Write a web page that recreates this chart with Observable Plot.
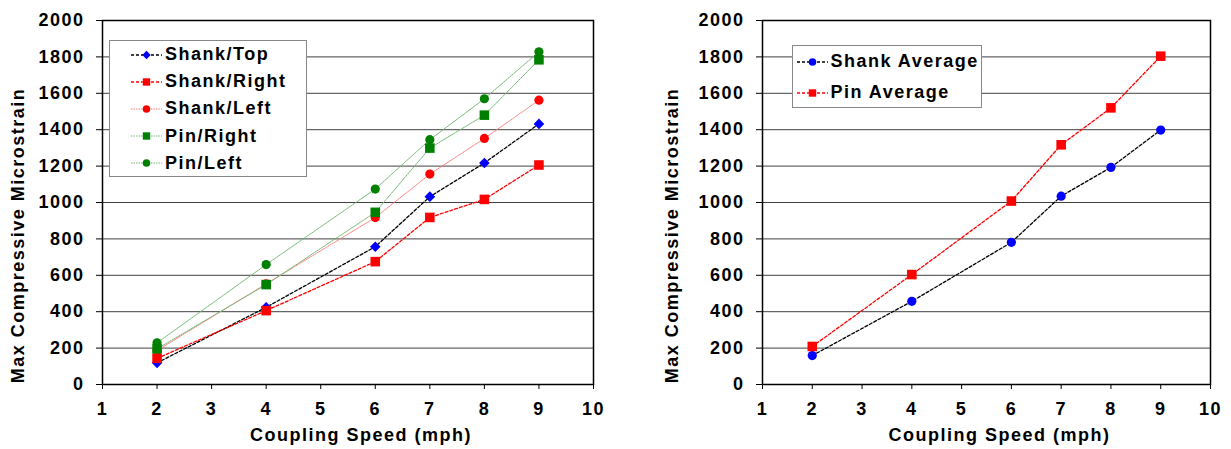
<!DOCTYPE html>
<html><head><meta charset="utf-8">
<script src="https://cdn.jsdelivr.net/npm/d3@7"></script>
<script src="https://cdn.jsdelivr.net/npm/@observablehq/plot@0.6"></script>
<style>
body{margin:0;background:#fff;}
#wrap{position:relative;width:1231px;height:449px;font-family:"Liberation Sans",Arial,sans-serif;overflow:hidden;}
.panel{position:absolute;top:0;}
.legend{position:absolute;background:#fff;border:1.5px solid #888;box-sizing:border-box;font-weight:bold;font-size:18px;letter-spacing:1.5px;color:#000;}
.row{display:flex;align-items:center;white-space:nowrap;}
.row svg{flex:none;margin-right:3px;}
</style></head>
<body>
<div id="wrap">
  <div class="panel" id="left" style="left:0"></div>
  <div class="panel" id="right" style="left:615px"></div>
  <div class="legend" id="legL" style="left:109px;top:40px;width:198px;height:137px;"></div>
  <div class="legend" id="legR" style="left:792px;top:45px;width:190px;height:63px;"></div>
</div>
<script>
// ---- data ----
const speeds = [2, 4, 6, 7, 8, 9];
const shankTop   = [119, 424, 757, 1032, 1217, 1432];
const shankRight = [144, 406, 675, 918, 1017, 1206];
const shankLeft  = [187, 553, 917, 1156, 1352, 1562];
const pinRight   = [196, 549, 946, 1299, 1480, 1784];
const pinLeft    = [229, 659, 1074, 1345, 1570, 1828];
const shankAverage = [159, 457, 781, 1035, 1193, 1398];
const pinAverage   = [209, 604, 1008, 1317, 1520, 1804];
const xTicks = [1, 2, 3, 4, 5, 6, 7, 8, 9, 10];
const yTicks = [0, 200, 400, 600, 800, 1000, 1200, 1400, 1600, 1800, 2000];
const xTitle = "Coupling Speed (mph)";
const yTitle = "Max Compressive Microstrain";

// ---- styles ----
const leftSeries = [
  {name: "Shank/Top",   values: shankTop,   line: "#000", dash: "3,2", width: 1.3, marker: "diamond", fill: "#0000ff"},
  {name: "Shank/Right", values: shankRight, line: "#ff0000", dash: "3,2", width: 1.3, marker: "square", fill: "#ff0000"},
  {name: "Shank/Left",  values: shankLeft,  line: "#ff8080", dash: "1.5,1", width: 1, marker: "circle", fill: "#ff0000"},
  {name: "Pin/Right",   values: pinRight,   line: "#70b870", dash: "1.5,1", width: 1, marker: "square", fill: "#008000"},
  {name: "Pin/Left",    values: pinLeft,    line: "#70b870", dash: "1.5,1", width: 1, marker: "circle", fill: "#008000"}
];
const rightSeries = [
  {name: "Shank Average", values: shankAverage, line: "#000", dash: "3,2", width: 1.3, marker: "circle", fill: "#0000ff"},
  {name: "Pin Average",   values: pinAverage,   line: "#ff0000", dash: "3,2", width: 1.3, marker: "square", fill: "#ff0000"}
];
const symR = {circle: 4.6, square: 5.4, diamond: 4.8};
const symName = {circle: "circle", square: "square", diamond: "diamond2"};

function chart(series, opts) {
  const marks = [
    Plot.gridY(yTicks, {stroke: "#000", strokeOpacity: 0.75, strokeWidth: 1}),
    Plot.axisY({ticks: yTicks, tickSize: 6, tickPadding: 12, tickFormat: d3.format("d"), label: null, stroke: "#000"}),
    Plot.axisX({ticks: xTicks, tickSize: 5, tickPadding: 13, tickFormat: d3.format("d"), label: null, stroke: "#000"}),
    Plot.text([yTitle], {frameAnchor: "left", textAnchor: "middle", lineAnchor: "middle", rotate: -90, dx: opts.yTitleDx, dy: 33, fontSize: 18, fontWeight: "bold"}),
    Plot.text([xTitle], {frameAnchor: "bottom", textAnchor: "middle", lineAnchor: "top", dx: 13, dy: 44, fontSize: 18, fontWeight: "bold"}),
    Plot.frame({stroke: "#000", strokeWidth: 1.5})
  ];
  for (const s of series) {
    const data = speeds.map((x, i) => ({x, y: s.values[i]}));
    marks.push(Plot.line(data, {x: "x", y: "y", stroke: s.line, strokeWidth: s.width, strokeDasharray: s.dash}));
  }
  for (const s of series) {
    const data = speeds.map((x, i) => ({x, y: s.values[i]}));
    marks.push(Plot.dot(data, {x: "x", y: "y", symbol: () => symName[s.marker], r: symR[s.marker], fill: s.fill, stroke: "none"}));
  }
  return Plot.plot({
    width: opts.width, height: 449,
    marginLeft: opts.ml, marginRight: opts.mr, marginTop: 20, marginBottom: 65,
    x: {domain: [1, 10]},
    y: {domain: [0, 2000]},
    symbol: {type: "identity"},
    style: {fontFamily: "'Liberation Sans', Arial, sans-serif", fontSize: "18px", fontWeight: "bold", letterSpacing: "1.5px", color: "#000", background: "transparent", overflow: "visible"},
    marks
  });
}

document.getElementById("left").append(chart(leftSeries, {width: 615, ml: 102, mr: 22, yTitleDx: -84}));
document.getElementById("right").append(chart(rightSeries, {width: 616, ml: 147, mr: 21, yTitleDx: -90}));

function swatch(s) {
  const ns = "http://www.w3.org/2000/svg";
  const svg = document.createElementNS(ns, "svg");
  svg.setAttribute("width", 31); svg.setAttribute("height", 14);
  const ln = document.createElementNS(ns, "line");
  ln.setAttribute("x1", 0); ln.setAttribute("x2", 31); ln.setAttribute("y1", 7); ln.setAttribute("y2", 7);
  ln.setAttribute("stroke", s.line); ln.setAttribute("stroke-width", s.width); ln.setAttribute("stroke-dasharray", s.dash);
  svg.append(ln);
  let m;
  if (s.marker === "circle") {
    m = document.createElementNS(ns, "circle");
    m.setAttribute("cx", 15.5); m.setAttribute("cy", 7); m.setAttribute("r", 3.8);
  } else if (s.marker === "square") {
    m = document.createElementNS(ns, "rect");
    m.setAttribute("x", 11.8); m.setAttribute("y", 3.3); m.setAttribute("width", 7.4); m.setAttribute("height", 7.4);
  } else {
    m = document.createElementNS(ns, "polygon");
    m.setAttribute("points", "15.5,2.8 19.7,7 15.5,11.2 11.3,7");
  }
  m.setAttribute("fill", s.fill);
  svg.append(m);
  return svg;
}
function legend(el, series, rowH, padLeft) {
  el.style.paddingLeft = padLeft + "px";
  for (const s of series) {
    const row = document.createElement("div");
    row.className = "row";
    row.style.height = rowH + "px";
    row.append(swatch(s));
    const t = document.createElement("span");
    t.textContent = s.name;
    row.append(t);
    el.append(row);
  }
}
legend(document.getElementById("legL"), leftSeries, 27.2, 21);
legend(document.getElementById("legR"), rightSeries, 31, 3.5);
</script>
</body></html>
